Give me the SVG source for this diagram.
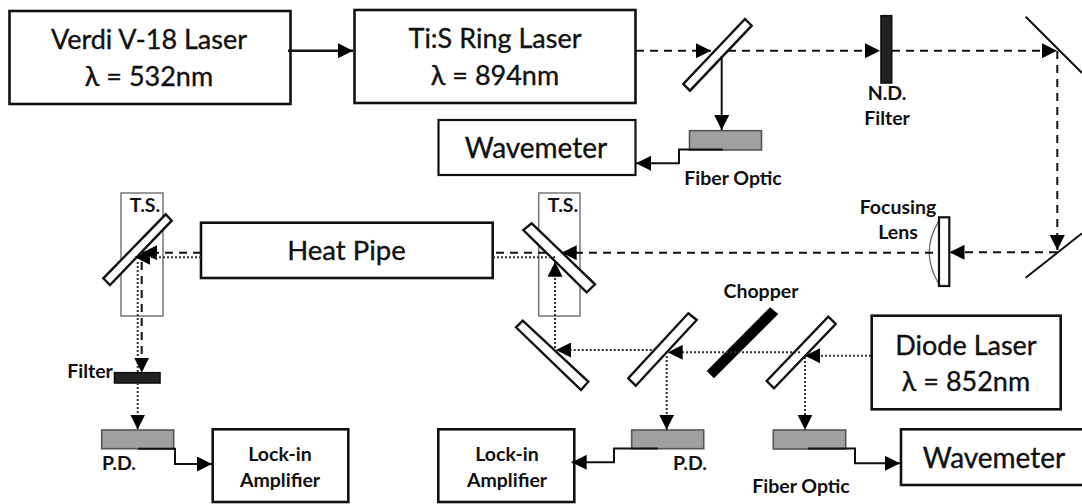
<svg xmlns="http://www.w3.org/2000/svg" width="1082" height="504" viewBox="0 0 1082 504">
<style>
.box{fill:#fff;stroke:#111;stroke-width:2.6}
.thin{stroke-width:2.2}
.mir{fill:#fff;stroke:#111;stroke-width:2.4;stroke-linejoin:miter}
.ts{fill:none;stroke:#777;stroke-width:1.5}
.gray{fill:#a0a0a0;stroke:#555;stroke-width:1.6}
.dk{fill:#222;stroke:#111;stroke-width:1.6}
.line{fill:none;stroke:#111;stroke-width:2}
.dash{fill:none;stroke:#111;stroke-width:2;stroke-dasharray:8 6}
.dot{fill:none;stroke:#333;stroke-width:2;stroke-dasharray:2 2}
.big{font-family:Lato,"Liberation Sans",sans-serif;font-size:27px;fill:#111;stroke:#111;stroke-width:.35;text-anchor:middle}
.sm{font-family:Lato,"Liberation Sans",sans-serif;font-size:19.5px;font-weight:700;fill:#111;text-anchor:middle}
</style>
<defs>
<marker id="a" markerUnits="userSpaceOnUse" markerWidth="15" markerHeight="15" viewBox="0 0 15 15" refX="15" refY="7.5" orient="auto"><path d="M0 0L15 7.5L0 15Z" fill="#000"/></marker>
</defs>
<rect width="1082" height="504" fill="#fff"/>
<g id="verdi"><rect class="box" x="9.5" y="11" width="281" height="93"/><text class="big" x="149" y="49">Verdi V-18 Laser</text><text class="big" x="149" y="86">λ = 532nm</text></g>
<g id="tis"><rect class="box" x="354.5" y="10" width="281" height="93"/><text class="big" x="495" y="48">Ti:S Ring Laser</text><text class="big" x="495" y="85">λ = 894nm</text></g>
<g id="wavemeter1"><rect class="box thin" x="438.5" y="120" width="197" height="55"/><text class="big" x="536" y="158" style="font-size:28px">Wavemeter</text></g>
<g id="bs1"><polygon class="mir" points="745,19 751.7,25.7 690,90.7 683.3,84"/></g>
<g id="fiber1"><rect class="gray" x="689.5" y="130.7" width="72" height="19.3"/><text class="sm" x="733" y="185">Fiber Optic</text></g>
<g id="ndfilter"><rect class="dk" x="881" y="15.7" width="10.7" height="67.3"/><text class="sm" x="887" y="100">N.D.</text><text class="sm" x="887" y="125">Filter</text></g>
<g id="mirror1"><line class="line" x1="1025.7" y1="16.7" x2="1082" y2="73"/></g>
<g id="mirror2"><line class="line" x1="1025.7" y1="277.7" x2="1082" y2="233.3"/></g>
<g id="lens"><path d="M938.5 221.7Q920 252 938.5 283.3" fill="none" stroke="#666" stroke-width="1.3"/><rect x="939" y="217.3" width="10.3" height="68.7" fill="#fff" stroke="#111" stroke-width="2.2"/><text class="sm" x="898" y="214">Focusing</text><text class="sm" x="898" y="239">Lens</text></g>
<g id="heatpipe"><rect class="box" x="201" y="222.7" width="291.7" height="55.3"/><text class="big" x="346.5" y="260" style="font-size:27.5px">Heat Pipe</text></g>
<g id="ts1"><rect class="ts" x="121" y="193" width="42" height="123"/><polygon class="mir" points="165.7,214.3 171.7,220.7 110,285 103.3,278.3"/><text class="sm" x="145" y="212">T.S.</text></g>
<g id="ts2"><rect class="ts" x="538.7" y="193" width="41.3" height="123"/><polygon class="mir" points="531.7,223.3 523.3,230 586.7,292.3 595,284.3"/><text class="sm" x="563" y="212">T.S.</text></g>
<g id="mirror3"><polygon class="mir" points="522.7,320.7 516,327.3 581,390 588.3,381.7"/></g>
<g id="bs2"><polygon class="mir" points="688.3,313.3 696.7,320 635.7,385.7 628.3,378.3"/></g>
<g id="chopper"><polygon points="770,307.3 778.3,314 714,378.3 706.7,371" fill="#000"/><text class="sm" x="761" y="298">Chopper</text></g>
<g id="bs3"><polygon class="mir" points="828.3,316.7 835.7,324 774,388.3 766.7,381"/></g>
<g id="diode"><rect class="box" x="871.7" y="315.7" width="189" height="93.6"/><text class="big" x="966" y="355">Diode Laser</text><text class="big" x="966" y="391">λ = 852nm</text></g>
<g id="filter"><rect class="dk" x="114.5" y="372.7" width="45.5" height="10.3"/><text class="sm" x="90" y="378">Filter</text></g>
<g id="pd1"><rect class="gray" x="101.7" y="430" width="72" height="18.7"/><text class="sm" x="119" y="470">P.D.</text></g>
<g id="lockin1"><rect class="box" x="212.7" y="429.3" width="135.6" height="72.7"/><text class="sm" x="280" y="461">Lock-in</text><text class="sm" x="280" y="487">Amplifier</text></g>
<g id="pd2"><rect class="gray" x="631.7" y="430" width="72" height="18.7"/><text class="sm" x="690" y="470">P.D.</text></g>
<g id="lockin2"><rect class="box" x="438.3" y="429.3" width="136" height="72.7"/><text class="sm" x="507" y="461">Lock-in</text><text class="sm" x="507" y="487">Amplifier</text></g>
<g id="fiber2"><rect class="gray" x="773.3" y="430" width="72.4" height="19"/><text class="sm" x="801" y="493">Fiber Optic</text></g>
<g id="wavemeter2"><rect class="box" x="901" y="429.3" width="184" height="55.7"/><text class="big" x="994" y="468" style="font-size:28px">Wavemeter</text></g>
<g id="connectors">
<path class="line" style="stroke-width:2.6" d="M288 50.7H353" marker-end="url(#a)"/>
<path class="dash" d="M636 50.7H711" marker-end="url(#a)"/>
<path class="dash" d="M728 50.7H880" marker-end="url(#a)"/>
<path class="dash" d="M892 50.7H1057" marker-end="url(#a)"/>
<path class="dash" d="M1057.3 51V250" marker-end="url(#a)"/>
<path class="dash" d="M1057 252.3H949.5" marker-end="url(#a)"/>
<path class="dash" d="M933 252.7H561.7" marker-end="url(#a)"/>
<path class="dash" d="M546 252.7H492.7"/>
<path class="dot" d="M555 257.3H492.7"/>
<path class="dash" d="M201 252.7H142" marker-end="url(#a)"/>
<path class="dot" d="M201 257.3H135" marker-end="url(#a)"/>
<path class="dot" d="M137.7 262V372"/>
<path class="dash" d="M141.7 262V372.7" marker-end="url(#a)"/>
<path class="dot" d="M137.7 383V429.5" marker-end="url(#a)"/>
<path class="line" d="M138 448.7H175V464H212" marker-end="url(#a)"/>
<path class="dot" d="M555 348V261.7" marker-end="url(#a)"/>
<path class="dot" d="M651.7 350H556" marker-end="url(#a)"/>
<path class="dot" d="M800 352.3H667.7" marker-end="url(#a)"/>
<path class="dot" d="M666.7 356V429.7" marker-end="url(#a)"/>
<path class="line" d="M657.7 448.5H614V462.3H571.7" marker-end="url(#a)"/>
<path class="dot" d="M871 355.7H805" marker-end="url(#a)"/>
<path class="dot" d="M805 357V429.7" marker-end="url(#a)"/>
<path class="line" d="M808 448.5H855V463.3H900" marker-end="url(#a)"/>
<path class="line" d="M721.7 56V130" marker-end="url(#a)"/>
<path class="line" d="M722.7 149.5H679V163.3H636" marker-end="url(#a)"/>
</g>
</svg>
